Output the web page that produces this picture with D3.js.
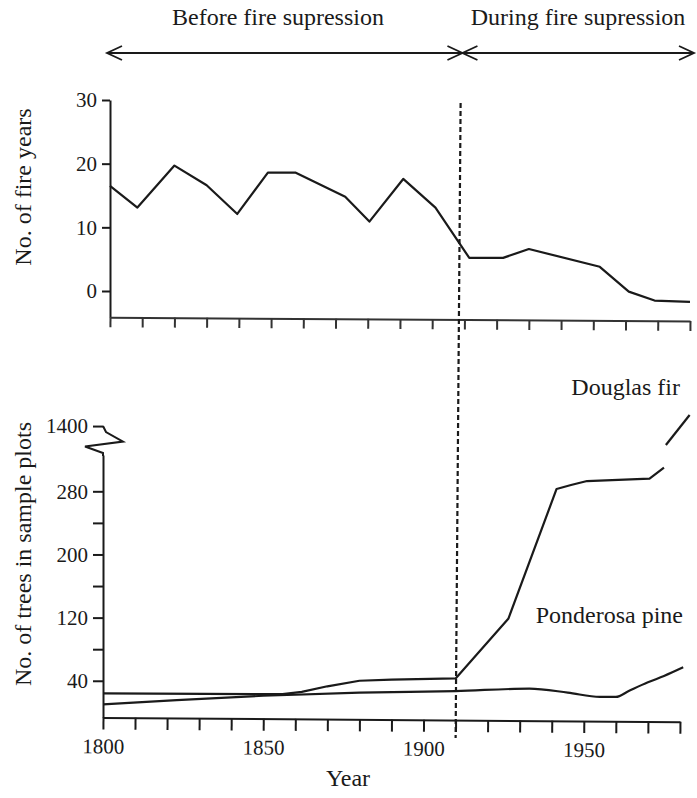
<!DOCTYPE html>
<html><head><meta charset="utf-8">
<script src="https://cdn.jsdelivr.net/npm/d3@7"></script>
<style>
body{margin:0;background:#fff}
</style>
</head><body><svg id="c" width="697" height="798"></svg>
<script>
// ---- data ----
const fireYears  = [1800,1808.5,1820,1830,1839.5,1849,1857.5,1873,1880.5,1891,1901,1911.5,1922,1930,1952,1961,1969,1980];
const fireCounts = [16.5,13.1,19.7,16.6,12.1,18.6,18.6,14.8,10.9,17.6,13.1,5.2,5.2,6.6,3.8,-0.1,-1.5,-1.7];
const firYears   = [1800,1856,1862,1870,1880,1890,1910,1926.5,1941.5,1946,1951,1970.5,1975];
const firTrees   = [24,23,26,33,40,41.5,43,119,283,288,293,296,310];
const firYearsBroken = [1975.6,1983];
const firTreesBroken = [1376,1414];
const pineYears  = [1800,1823,1850,1880,1910,1933,1945,1955,1960,1964,1970,1975,1981];
const pineTrees  = [10,15.5,21,25,27,30,25,19.5,19.5,27,38,46,57];
const fireTicks  = [0,10,20,30];
const treeTicks  = [40,80,120,160,200,240,280];
const treeLabels = [40,120,200,280];
const brokenTicks = [1400];
const yearTicks  = d3.range(1800,1981,10);
const yearLabels = [1800,1850,1900,1950];
const periodLabels = ["Before fire supression","During fire supression"];
const seriesLabels = ["Douglas fir","Ponderosa pine"];
const axisTitles = ["No. of fire years","No. of trees in sample plots","Year"];
const suppressionStart = 1910;

// ---- setup ----
const FONT = "'Liberation Serif','DejaVu Serif','Noto Serif',serif";
const svg = d3.select("#c");
const ink = "#1a1a1a";
const xTop = d3.scaleLinear().domain([1800,1980]).range([110,690]);
const xBot = d3.scaleLinear().domain([1800,1980]).range([103,680]);
const yTop = d3.scaleLinear().domain([-4.1,30]).range([317.1,100]);
const yBot = d3.scaleLinear().domain([-6.4,326]).range([717.4,455]);
const yBrk = d3.scaleLinear().domain([1376,1414]).range([445,415]);
const fmt = d3.format("d");

function styleAxis(g, fs){
  g.attr("font-family", FONT);
  g.selectAll("path,line").attr("stroke",ink).attr("stroke-width",2);
  g.selectAll("text").attr("font-size",fs).attr("fill",ink).attr("font-family",FONT);
}
function label(txt, x, y, anchor, fs, rot){
  const t = svg.append("text").attr("font-family",FONT).attr("font-size",fs)
    .attr("fill",ink).attr("text-anchor",anchor).text(txt);
  if (rot) t.attr("transform",`translate(${x},${y}) rotate(${rot})`);
  else t.attr("x",x).attr("y",y);
  return t;
}

// ---- top panel ----
const gTopY = svg.append("g").attr("transform","translate(110,0)")
  .call(d3.axisLeft(yTop).tickValues(fireTicks).tickSize(8).tickSizeOuter(0).tickPadding(5).tickFormat(fmt));
styleAxis(gTopY,21);

const gTopX = svg.append("g").attr("transform","translate(0,317.2) rotate(0.37,110,0)")
  .call(d3.axisBottom(xTop).tickValues(yearTicks).tickSize(10).tickSizeOuter(0).tickFormat(""));
styleAxis(gTopX,21);
gTopX.selectAll("path,line").attr("stroke","#333");

svg.append("path")
  .attr("d", d3.line().x(i=>xTop(fireYears[i])).y(i=>yTop(fireCounts[i]))(d3.range(fireYears.length)))
  .attr("fill","none").attr("stroke",ink).attr("stroke-width",2.2).attr("stroke-linejoin","round");

// ---- bottom panel ----
const gBotY = svg.append("g").attr("transform","translate(103,0)")
  .call(d3.axisLeft(yBot).tickValues(treeTicks).tickSize(10).tickSizeOuter(0).tickPadding(5)
    .tickFormat(d=>treeLabels.includes(d)?fmt(d):""));
styleAxis(gBotY,21);

const gBrk = svg.append("g").attr("transform","translate(103,0)")
  .call(d3.axisLeft(yBrk).tickValues(brokenTicks).tickSize(10).tickSizeOuter(0).tickPadding(5).tickFormat(fmt));
styleAxis(gBrk,21);
gBrk.select("path.domain").remove();
// axis break zig-zag
const y0 = yBrk(brokenTicks[0]);
const zig = [[0,0],[3,6],[20,15.5],[-18,20.5],[0,27],[0,30]];
svg.append("path")
  .attr("d", d3.line()(zig.map(p=>[xBot(1800)+p[0], y0+p[1]])))
  .attr("fill","none").attr("stroke",ink).attr("stroke-width",2).attr("stroke-linejoin","miter");

const gBotX = svg.append("g").attr("transform","translate(0,717.4) rotate(0.44,103,0)")
  .call(d3.axisBottom(xBot).tickValues(yearTicks).tickSize(12).tickSizeOuter(0).tickPadding(9)
    .tickFormat(d=>yearLabels.includes(d)?fmt(d):""));
styleAxis(gBotX,21);

svg.append("path")
  .attr("d", d3.line().x(i=>xBot(pineYears[i])).y(i=>yBot(pineTrees[i])).curve(d3.curveMonotoneX)(d3.range(pineYears.length)))
  .attr("fill","none").attr("stroke",ink).attr("stroke-width",2.2);
svg.append("path")
  .attr("d", d3.line().x(i=>xBot(firYears[i])).y(i=>yBot(firTrees[i]))(d3.range(firYears.length)))
  .attr("fill","none").attr("stroke",ink).attr("stroke-width",2.2).attr("stroke-linejoin","round");
svg.append("path")
  .attr("d", d3.line().x(i=>xBot(firYearsBroken[i])).y(i=>yBrk(firTreesBroken[i]))(d3.range(firYearsBroken.length)))
  .attr("fill","none").attr("stroke",ink).attr("stroke-width",2.2);

// ---- dashed divider ----
svg.append("line")
  .attr("x1", xBot(suppressionStart)+5).attr("y1", 103)
  .attr("x2", xBot(suppressionStart)).attr("y2", 738)
  .attr("stroke",ink).attr("stroke-width",2.2).attr("stroke-dasharray","5,3");

// ---- period arrows ----
const ay = 53, hx = 15, hy = 7;
const aL = xTop(1800)-3, aM = xTop(suppressionStart)-2, aR = xTop(1980)+4;
const arr = svg.append("g").attr("stroke",ink).attr("stroke-width",1.8).attr("fill","none");
arr.append("line").attr("x1",aL).attr("x2",aR).attr("y1",ay).attr("y2",ay);
[[aL,1],[aM,-1],[aM,1],[aR,-1]].forEach(([x,dir])=>{
  arr.append("path").attr("d",`M${x+dir*hx},${ay-hy}L${x},${ay}L${x+dir*hx},${ay+hy}`);
});

// ---- texts ----
label(periodLabels[0], 278, 25, "middle", 24);
label(periodLabels[1], 578, 25, "middle", 24);
label(seriesLabels[0], 680, 395, "end", 24);
label(seriesLabels[1], 683, 623, "end", 24);
label(axisTitles[0], 31, 187, "middle", 24, -90);
label(axisTitles[1], 31, 554, "middle", 24, -90);
label(axisTitles[2], 348, 786, "middle", 24);
</script>
</body></html>
